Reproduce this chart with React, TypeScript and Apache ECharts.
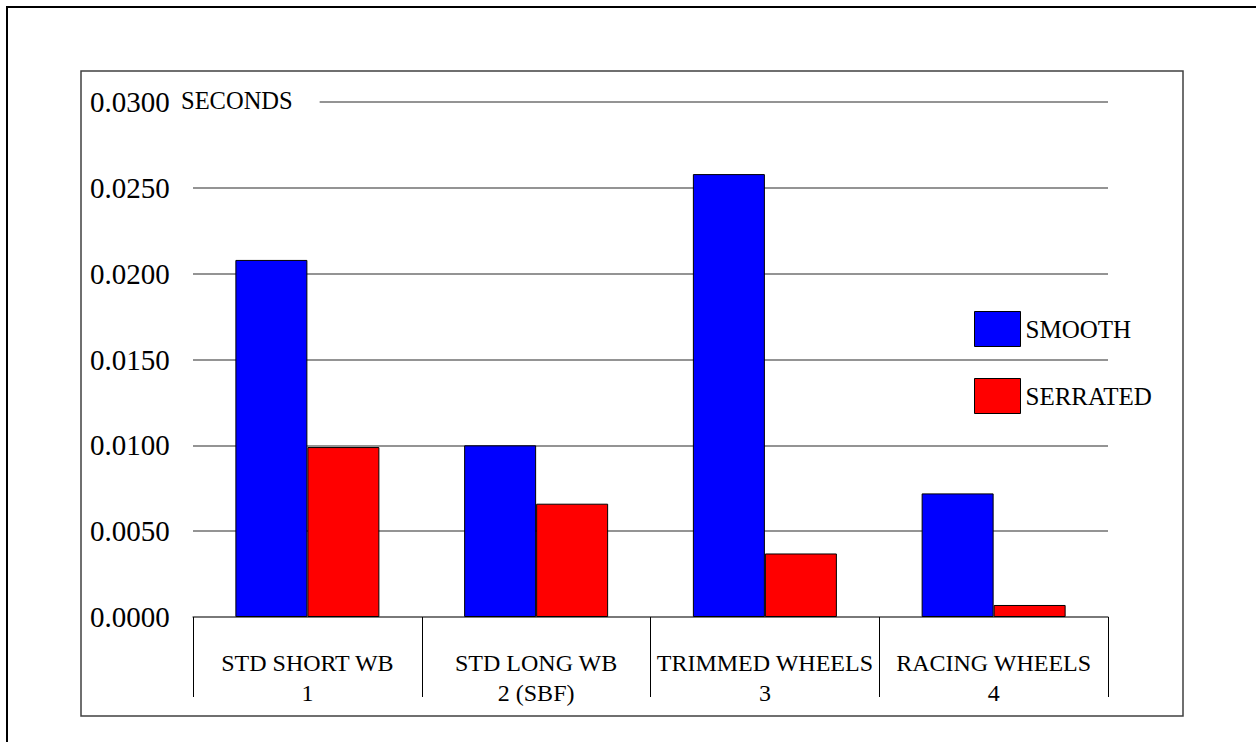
import React, { useEffect, useRef } from "react";
import * as echarts from "echarts";

const categories = ["STD SHORT WB\n1", "STD LONG WB\n2 (SBF)", "TRIMMED WHEELS\n3", "RACING WHEELS\n4"];
const smooth = [0.0208, 0.0100, 0.0258, 0.0072];
const serrated = [0.0099, 0.0066, 0.0037, 0.0007];
const yTicks = { min: 0, max: 0.03, interval: 0.005 };
const unitLabel = "SECONDS";

const FONT = "'Liberation Serif', 'Times New Roman', serif";

export default function App() {
  const ref = useRef<HTMLDivElement>(null);
  useEffect(() => {
    document.body.style.margin = "0";
    const chart = echarts.init(ref.current!, null, { renderer: "svg" });
    chart.setOption({
      animation: false,
      backgroundColor: "#fff",
      textStyle: { fontFamily: FONT, color: "#000" },
      grid: { left: 193, right: 148, top: 102, bottom: 125 },
      legend: {
        orient: "vertical",
        left: 969,
        top: 306,
        itemWidth: 46,
        itemHeight: 35,
        itemGap: 31,
        selectedMode: false,
        icon: "rect",
        itemStyle: { borderColor: "#000", borderWidth: 1 },
        textStyle: { fontFamily: FONT, fontSize: 25, color: "#000" },
        data: ["SMOOTH", "SERRATED"],
      },
      xAxis: {
        type: "category",
        data: categories,
        axisLine: { lineStyle: { color: "#707070", width: 1.5 } },
        axisTick: { show: true, interval: 0, length: 80, lineStyle: { color: "#000", width: 1 } },
        axisLabel: {
          interval: 0,
          margin: 31,
          fontFamily: FONT,
          fontSize: 24,
          lineHeight: 30,
          color: "#000",
        },
      },
      yAxis: {
        type: "value",
        min: yTicks.min,
        max: yTicks.max,
        interval: yTicks.interval,
        axisLine: { show: false },
        axisTick: { show: false },
        axisLabel: {
          align: "left",
          margin: 103,
          fontFamily: FONT,
          fontSize: 29,
          color: "#000",
          formatter: (v: number) => v.toFixed(4),
        },
        splitLine: { lineStyle: { color: "#707070", width: 1.5 } },
      },
      series: [
        {
          name: "SMOOTH",
          type: "bar",
          data: smooth,
          barWidth: 72,
          barGap: "0%",
          itemStyle: { color: "#0000FF", borderColor: "#000", borderWidth: 1 },
        },
        {
          name: "SERRATED",
          type: "bar",
          data: serrated,
          barWidth: 72,
          barGap: "0%",
          itemStyle: { color: "#FF0000", borderColor: "#000", borderWidth: 1 },
        },
      ],
      graphic: [
        {
          type: "rect",
          z: -10,
          silent: true,
          shape: { x: 7, y: 7, width: 1400, height: 900 },
          style: { fill: "none", stroke: "#000", lineWidth: 2 },
        },
        {
          type: "rect",
          z: -10,
          silent: true,
          shape: { x: 81, y: 71, width: 1102, height: 645 },
          style: { fill: "none", stroke: "#404040", lineWidth: 1.5 },
        },
        {
          type: "text",
          z: 100,
          silent: true,
          x: 181,
          y: 100,
          style: {
            text: unitLabel,
            fontFamily: FONT,
            fontSize: 24.5,
            fill: "#000",
            verticalAlign: "middle",
            backgroundColor: "#fff",
            padding: [2, 27, 2, 0],
          },
        },
      ],
    });
    return () => chart.dispose();
  }, []);
  return <div ref={ref} style={{ width: 1256, height: 742 }} />;
}
